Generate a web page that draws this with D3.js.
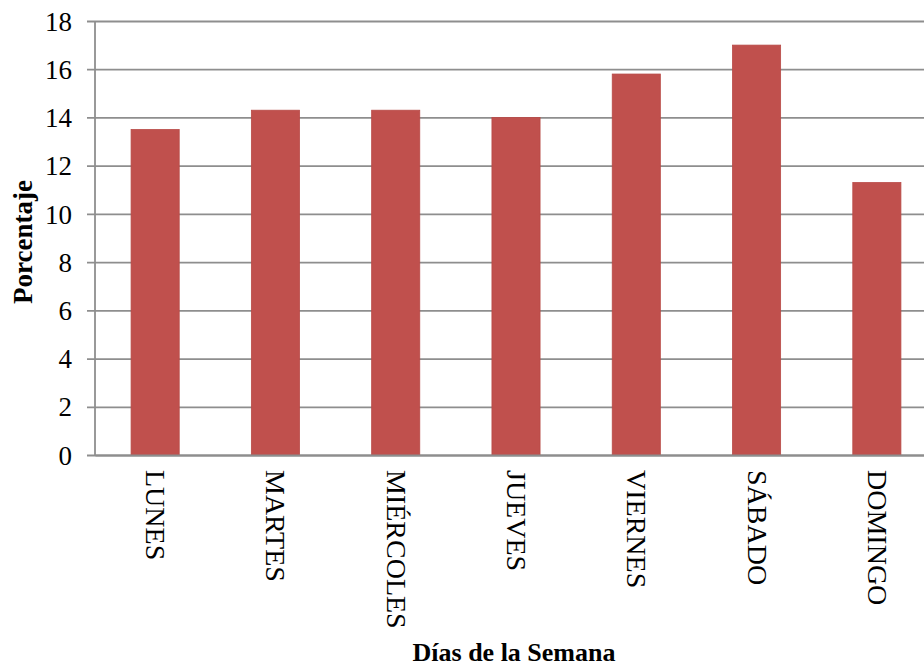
<!DOCTYPE html>
<html>
<head>
<meta charset="utf-8">
<script src="https://cdn.jsdelivr.net/npm/d3@7"></script>
<style>
  html, body { margin: 0; padding: 0; background: #fff; overflow: hidden; }
  svg { display: block; }
  text { font-family: "Liberation Serif", "Times New Roman", serif; fill: #000; }
</style>
</head>
<body>
<svg id="chart" width="924" height="669"></svg>
<script>
// Porcentaje por día de la semana
const days = ["LUNES", "MARTES", "MIÉRCOLES", "JUEVES", "VIERNES", "SÁBADO", "DOMINGO"];
const percentages = [13.5, 14.3, 14.3, 14.0, 15.8, 17.0, 11.3];
const yTicks = [0, 2, 4, 6, 8, 10, 12, 14, 16, 18];
const yTitle = "Porcentaje";
const xTitle = "Días de la Semana";

const svg = d3.select("#chart");
const plot = { left: 95, right: 937, top: 21, bottom: 455 };

const x = d3.scaleBand()
  .domain(days)
  .range([plot.left, plot.right])
  .paddingInner(0.6)
  .paddingOuter(0.3);

const y = d3.scaleLinear()
  .domain([0, 18])
  .range([plot.bottom, plot.top]);

// horizontal gridlines with short outer ticks
const yAxis = svg.append("g")
  .attr("transform", `translate(${plot.left},0)`)
  .call(d3.axisLeft(y).tickValues(yTicks)
    .tickSizeInner(-(plot.right - plot.left)).tickSizeOuter(0).tickPadding(15));
yAxis.select(".domain").remove();
yAxis.selectAll(".tick line")
  .attr("x1", -8)
  .attr("stroke", "#8e8e8e")
  .attr("stroke-width", 1.8);
yAxis.selectAll(".tick text")
  .attr("x", -23)
  .style("font-size", "27px")
  .attr("dy", "0.34em");

// vertical axis line
svg.append("line")
  .attr("x1", plot.left).attr("x2", plot.left)
  .attr("y1", plot.top).attr("y2", plot.bottom)
  .attr("stroke", "#8e8e8e")
  .attr("stroke-width", 1.8);

// bars
svg.append("g")
  .selectAll("rect")
  .data(days)
  .join("rect")
  .attr("x", d => x(d))
  .attr("width", x.bandwidth())
  .attr("y", (d, i) => y(percentages[i]))
  .attr("height", (d, i) => y(0) - y(percentages[i]))
  .attr("fill", "#c0504d")
  .attr("stroke", "#b84a47")
  .attr("stroke-width", 0.8);

// category labels, rotated to read top to bottom
const xAxis = svg.append("g")
  .attr("transform", `translate(0,${plot.bottom})`)
  .call(d3.axisBottom(x).tickSize(0).tickPadding(0));
xAxis.select(".domain")
  .attr("stroke", "#8e8e8e")
  .attr("stroke-width", 1.8);
xAxis.selectAll(".tick text")
  .attr("transform", "translate(0,15) rotate(90)")
  .attr("y", 0)
  .attr("dy", "0.32em")
  .attr("text-anchor", "start")
  .style("font-size", "28px");

// axis titles
svg.append("text")
  .attr("transform", "translate(32,242) rotate(-90)")
  .attr("text-anchor", "middle")
  .style("font-size", "27px")
  .style("font-weight", "bold")
  .text(yTitle);

svg.append("text")
  .attr("x", 514)
  .attr("y", 661)
  .attr("text-anchor", "middle")
  .style("font-size", "26px")
  .style("font-weight", "bold")
  .text(xTitle);
</script>
</body>
</html>
